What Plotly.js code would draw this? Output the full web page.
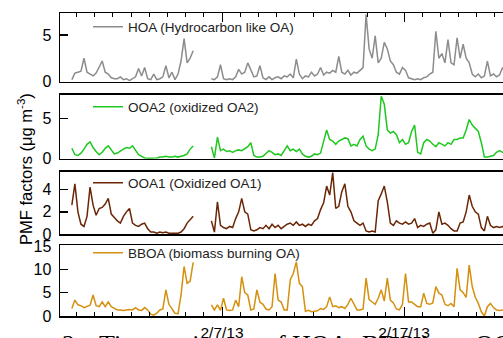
<!DOCTYPE html>
<html><head><meta charset="utf-8">
<script src="https://cdn.plot.ly/plotly-3.0.1.min.js"></script>
<style>html,body{margin:0;padding:0;overflow:hidden;width:503px;height:338px;background:#fff}#chart{width:540px;height:338px}</style>
</head><body><div id="chart"></div><script>
// 4-hourly samples starting 2013-01-29 18:00 (null = no data)
const startUTC = Date.UTC(2013, 0, 29, 18);
const stepHours = 4;

const HOA = [0.2,0.9,1.0,1.1,2.5,1.0,0.8,0.6,0.9,1.5,
 2.2,1.0,0.8,0.4,0.3,0.3,0.5,0.2,0.3,0.1,
 0.3,0.5,1.4,0.6,1.5,0.3,0.2,0.8,0.2,0.3,
 0.5,1.7,0.4,1.0,0.2,0.8,2.2,4.6,2.0,2.5,
 3.3,null,null,null,null,null,0.3,0.2,0.5,1.8,
 0.3,0.2,0.3,0.2,0.5,1.3,0.8,1.0,2.0,1.3,
 0.5,0.6,1.7,0.4,0.2,0.5,0.2,0.4,0.5,0.3,
 0.6,0.5,0.8,0.4,2.4,0.8,0.3,0.6,0.5,1.0,
 0.6,0.8,1.5,0.7,1.0,0.9,1.2,1.0,2.7,1.0,
 0.8,1.2,0.7,1.0,0.9,1.2,1.5,7.2,3.5,2.5,
 4.9,2.0,2.5,4.2,3.5,2.2,1.8,1.0,0.8,1.5,
 1.2,0.4,0.3,0.2,0.3,0.2,0.4,0.5,0.8,1.0,
 5.4,2.5,3.0,2.0,4.5,2.0,1.8,4.7,2.5,4.0,
 2.5,2.0,0.8,0.5,0.8,0.4,0.6,2.2,0.6,0.8,
 0.5,0.7,1.5,1.0,0.8];

const OOA2 = [1.3,0.5,0.4,0.7,1.2,1.8,2.1,1.4,0.9,0.5,
 0.8,1.3,1.6,1.1,0.6,0.7,1.0,1.2,1.4,1.3,
 1.6,1.0,0.5,0.3,0.1,0.05,0.05,0.05,0.1,0.2,
 0.2,0.3,0.2,0.2,0.3,0.2,0.3,0.4,0.6,1.2,
 1.6,null,null,null,null,null,1.5,0.1,2.7,1.0,
 1.2,0.9,1.0,0.8,1.0,1.1,1.0,1.2,1.5,2.0,
 0.4,0.2,0.2,0.3,0.6,1.0,0.8,0.5,0.6,0.4,
 1.0,1.6,1.0,1.2,0.9,1.2,0.6,0.3,0.2,0.3,
 0.6,0.5,0.7,2.0,3.6,2.4,2.2,1.8,2.2,2.4,
 2.6,2.5,1.6,1.8,1.6,2.4,2.8,1.6,1.2,1.0,
 1.2,3.0,7.8,6.8,3.6,3.2,3.4,3.0,2.0,2.4,
 1.8,2.0,3.4,4.2,0.8,0.6,2.0,2.4,2.2,1.8,
 1.5,2.0,1.8,1.6,2.0,1.8,2.4,2.4,2.6,2.6,
 3.6,4.9,4.2,3.8,3.4,2.0,0.2,0.2,0.3,0.4,
 0.8,1.0,0.8,0.6,0.7];

const OOA1 = [2.6,4.5,2.0,0.9,0.7,1.6,4.2,2.6,1.7,2.3,
 2.4,2.7,3.2,1.8,1.5,1.2,1.0,1.6,2.0,2.3,
 1.0,0.8,0.7,0.9,1.0,0.5,0.2,0.2,0.1,0.2,
 0.15,0.2,0.1,0.1,0.1,0.1,0.2,0.5,1.0,1.3,
 1.6,null,null,null,null,null,1.2,0.2,2.9,0.8,
 0.6,0.5,0.7,0.6,1.4,2.0,3.2,2.0,1.8,0.4,
 0.3,0.4,0.6,0.5,0.8,0.5,0.9,0.6,0.8,0.5,
 0.7,0.9,1.0,0.8,1.1,0.8,0.9,0.7,0.9,0.8,
 1.2,1.4,2.2,2.8,4.3,3.5,5.5,2.3,2.5,3.8,
 4.5,2.5,2.0,1.2,1.0,0.8,1.0,0.3,0.2,0.3,
 0.2,3.0,3.6,4.3,2.9,1.0,0.8,1.2,1.0,0.9,
 1.1,0.9,1.0,1.4,0.6,0.8,0.7,0.9,1.0,0.1,
 0.4,2.0,0.9,1.0,0.8,0.5,0.3,0.3,1.0,1.1,
 2.0,3.5,2.5,2.0,1.8,0.6,0.3,1.6,0.8,0.6,
 0.7,0.6,0.7,0.6,0.7];

const BBOA = [1.6,3.4,2.4,2.2,1.8,2.0,2.3,4.5,2.2,2.0,
 3.0,2.0,3.0,2.0,1.6,1.3,1.3,1.2,1.3,1.4,
 1.3,1.8,1.3,1.2,1.8,1.3,0.4,0.2,0.6,1.3,
 1.5,5.6,2.5,1.6,0.6,0.5,4.5,10.6,7.0,7.5,
 11.5,null,null,null,null,null,2.4,1.3,2.4,1.2,
 3.8,1.3,1.2,1.3,3.4,2.0,8.4,5.0,4.5,1.3,
 1.5,5.6,3.0,2.5,1.5,1.3,2.0,9.1,3.4,3.0,
 1.3,1.3,7.7,9.1,11.6,7.0,6.3,1.0,1.2,0.9,
 1.0,1.1,1.6,1.4,2.0,4.1,2.0,2.2,1.8,2.0,
 1.6,2.5,3.8,2.6,1.3,1.3,1.5,8.1,3.5,3.0,
 2.5,3.8,5.6,3.2,8.1,3.4,2.8,1.5,1.3,2.5,
 9.1,3.0,3.0,2.5,2.0,2.0,4.9,2.7,2.5,2.8,
 6.3,4.9,4.5,2.5,2.2,2.7,2.0,10.2,5.6,5.0,
 4.0,10.9,6.3,4.0,2.7,0.9,0.0,2.0,2.7,1.8,
 1.3,1.2,1.3,1.2,1.3];

const seriesNames = ['HOA (Hydrocarbon like OA)', 'OOA2 (oxidized OA2)', 'OOA1 (Oxidized OA1)', 'BBOA (biomass burning OA)'];
const seriesColors = ['#8c8c8c', '#1ec81e', '#6b2606', '#d4900e'];
const yRanges = [[0, 7.33], [0, 8.0], [0, 5.6], [0, 15.2]];
const yDticks = [5, 5, 2, 5];
const xRange = ['2013-01-29 02:22', '2013-02-24 11:21'];
const yTitle = 'PMF factors (μg m<sup>-3</sup>)';
const captionWords = ['2.', 'Time', 'series', 'of', 'HOA,', 'BBOA,', 'OOA'];

const FONT = 'Liberation Sans, Arial, Helvetica, sans-serif';
const H = 338;
const panelPx = [[13.3, 81.5], [94.7, 158.7], [171.5, 234.3], [245, 316]];
const dom = p => [1 - p[1] / H, 1 - p[0] / H];

function timeAt(i) {
  return new Date(startUTC + i * stepHours * 3600e3).toISOString().slice(0, 16).replace('T', ' ');
}
const allSeries = [HOA, OOA2, OOA1, BBOA];
const traces = allSeries.map((vals, k) => ({
  type: 'scatter', mode: 'lines',
  x: vals.map((_, i) => timeAt(i)), y: vals,
  name: seriesNames[k],
  line: {color: seriesColors[k], width: 1.5},
  xaxis: k === 0 ? 'x' : 'x' + (k + 1),
  yaxis: k === 0 ? 'y' : 'y' + (k + 1),
  legend: k === 0 ? 'legend' : 'legend' + (k + 1),
  showlegend: true
}));

const layout = {
  width: 540, height: 338,
  margin: {l: 60, r: 0, t: 0, b: 0},
  paper_bgcolor: '#fff', plot_bgcolor: '#fff',
  font: {family: FONT, color: '#000'},
  annotations: [],
  showlegend: true
};

const tickBase = {
  tick0: '2013-02-07', dtick: 864000000,
  ticklen: 9, tickwidth: 1, tickcolor: '#000',
  minor: {ticks: 'inside', ticklen: 4, tickwidth: 1, tickcolor: '#000', dtick: 86400000, tick0: '2013-02-07', showgrid: false}
};

for (let k = 0; k < 4; k++) {
  const xs = k === 0 ? 'xaxis' : 'xaxis' + (k + 1);
  const ys = k === 0 ? 'yaxis' : 'yaxis' + (k + 1);
  const ya = k === 0 ? 'y' : 'y' + (k + 1);
  const xa = k === 0 ? 'x' : 'x' + (k + 1);
  const xax = {
    type: 'date', range: xRange, domain: [0, 1], anchor: ya,
    showline: true, linecolor: '#000', linewidth: 1.5, mirror: true,
    showgrid: false, zeroline: false, ticks: '', showticklabels: false
  };
  if (k === 0) Object.assign(xax, tickBase, {side: 'top', ticks: 'inside'});
  if (k === 3) Object.assign(xax, tickBase, {side: 'bottom', ticks: 'inside', showticklabels: true,
    tickformat: '%-m/%-d/%y', ticklabelstandoff: 2, tickfont: {size: 15.5, family: FONT, color: '#000'}});
  layout[xs] = xax;
  layout[ys] = {
    domain: dom(panelPx[k]), range: yRanges[k], anchor: xa,
    showline: true, linecolor: '#000', linewidth: 1.5, mirror: false,
    ticks: 'inside', ticklen: 8, tickwidth: 1.5, tickcolor: '#000',
    dtick: yDticks[k], tick0: 0, showgrid: false, zeroline: false,
    tickfont: {size: 16, family: FONT, color: '#000'}, ticklabelstandoff: 4
  };
  const lg = k === 0 ? 'legend' : 'legend' + (k + 1);
  const legendY = [27, 107, 183, 253][k];
  layout[lg] = {
    x: (88 - 60) / 480, y: 1 - legendY / H, xanchor: 'left', yanchor: 'middle',
    bgcolor: 'rgba(0,0,0,0)', borderwidth: 0,
    font: {size: 13.5, family: FONT, color: '#222'}
  };
}

layout.annotations.push({
  xref: 'paper', yref: 'paper', x: (25 - 60) / 480, y: 1 - 169 / H,
  xanchor: 'center', yanchor: 'middle', textangle: -90, showarrow: false,
  text: yTitle, font: {size: 16.5, family: FONT, color: '#000'}
});

const captionX = [60, 97, 160, 262, 290, 360, 473];
captionWords.forEach((w, i) => {
  layout.annotations.push({
    xref: 'paper', yref: 'paper', x: (captionX[i] - 60) / 480, y: 1 - 327.5 / H,
    xanchor: 'left', yanchor: 'top', showarrow: false, text: w,
    font: {size: 26, family: 'Liberation Serif, Times New Roman, serif', color: '#000'}
  });
});

Plotly.newPlot('chart', traces, layout, {staticPlot: true, displayModeBar: false});
</script></body></html>
